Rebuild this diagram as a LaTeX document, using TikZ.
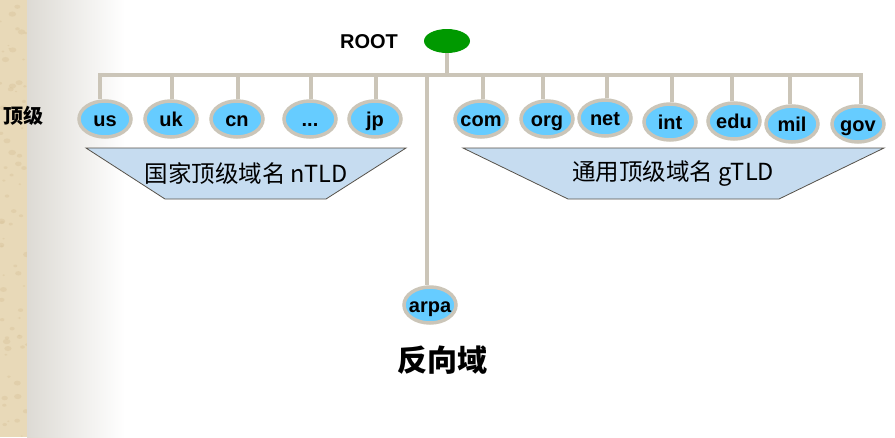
\documentclass[tikz,border=0pt]{standalone}
\usepackage{fontspec}
\setmainfont{Liberation Sans}
\newfontfamily\cjk{Noto Sans CJK SC}
\usetikzlibrary{shapes.geometric}
\definecolor{wire}{HTML}{CBC5B8}
\definecolor{leaf}{HTML}{66CCFF}
\definecolor{band}{HTML}{C6DCF0}
\definecolor{bandedge}{HTML}{57524A}
\definecolor{rootg}{HTML}{009900}
\definecolor{parch}{HTML}{E8D9B8}
\definecolor{parchdark}{HTML}{D9C59C}
\definecolor{fadeg}{HTML}{DDDAD4}
\tikzset{
  leafnode/.style={ellipse, draw=wire, line width=3.5pt, fill=leaf, inner xsep=-8pt, inner ysep=-3pt,
    minimum width=52pt, minimum height=36pt, text height=18pt, text depth=4pt,
    font=\bfseries\fontsize{20}{20}\selectfont},
  wireline/.style={draw=wire, line width=4pt},
  bandshape/.style={draw=bandedge, fill=band, line width=0.8pt},
  bandtext/.style={font=\cjk\fontsize{23.5}{23.5}\selectfont, inner sep=0pt}
}
\begin{document}
\begin{tikzpicture}[x=1pt,y=-1pt]
\useasboundingbox (0,0) rectangle (895,437);
\fill[white] (0,0) rectangle (895,437);
\fill[parch] (0,0) rectangle (27,437);
\pgfmathsetseed{7}
\begin{scope}
\clip (0,0) rectangle (27,437);
\foreach \i in {1,...,70} {
  \pgfmathsetmacro{\px}{rnd*27}
  \pgfmathsetmacro{\py}{rnd*437}
  \pgfmathsetmacro{\pr}{1+rnd*3}
  \fill[parchdark, opacity=0.45] (\px,\py) ellipse ({\pr} and {\pr*0.7});
}
\end{scope}
\shade[left color=fadeg, right color=white] (27,0) rectangle (125,437);

% root
\node[ellipse, fill=rootg, minimum width=46pt, minimum height=24pt, inner sep=0pt] (root) at (447,41) {};
\node[font=\bfseries\fontsize{20}{20}\selectfont] (roottxt) at (369,42) {ROOT};
\node[font=\cjk\bfseries\fontsize{20}{20}\selectfont] (level) at (23,116) {顶级};

% leaves
\node[leafnode] (us)  at (105,119) {us};
\node[leafnode] (uk)  at (171,119) {uk};
\node[leafnode] (cn)  at (237,119) {cn};
\node[leafnode] (dots) at (310,119) {...};
\node[leafnode] (jp)  at (375,119) {jp};
\node[leafnode] (com) at (481,119) {com};
\node[leafnode] (org) at (547,119) {org};
\node[leafnode] (net) at (605,118) {net};
\node[leafnode] (int) at (670,122) {int};
\node[leafnode] (edu) at (734,121) {edu};
\node[leafnode] (mil) at (792,124) {mil};
\node[leafnode] (gov) at (858,124) {gov};
\node[leafnode] (arpa) at (430,305) {arpa};

% bus
\coordinate (busL) at (100,75);
\coordinate (busR) at (861,75);
\coordinate (busA) at (427,75);
\draw[wireline] (root.south) -- (root.south |- busL);
\draw[wireline, line cap=rect] (busL) -- (busR);
\foreach \n/\dx in {us/-5,uk/1,cn/1,dots/1,jp/1,com/2,org/-4,net/2,int/2,edu/-2,mil/-2,gov/3} {
  \draw[wireline] ([xshift=\dx pt]\n.north) -- ([xshift=\dx pt]\n.north |- busL);
}
\draw[wireline] (busA) -- (busA |- arpa.north);

% bands
\draw[bandshape] (86,148) -- (406,148) -- (326,199) -- (165,199) -- cycle;
\node[bandtext] (ntld) at (246,174) {国家顶级域名 nTLD};
\draw[bandshape] (463,148) -- (884,148) -- (779,199) -- (568,199) -- cycle;
\node[bandtext] (gtld) at (673,174) {通用顶级域名 gTLD};

\node[font=\cjk\bfseries\fontsize{30}{30}\selectfont] (rev) at (442,360) {反向域};
\end{tikzpicture}
\end{document}
